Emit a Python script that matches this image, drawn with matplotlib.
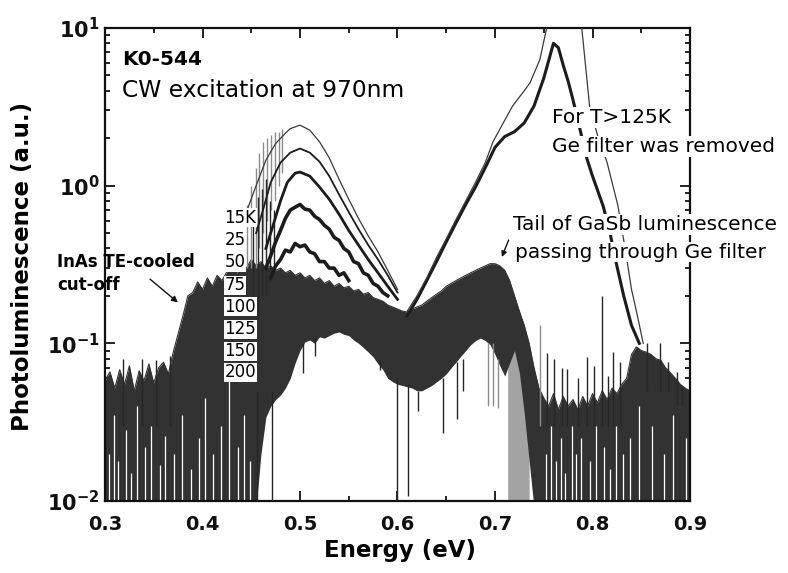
import matplotlib
matplotlib.use('Agg')
import matplotlib.pyplot as plt
from matplotlib.ticker import MultipleLocator, LogLocator, NullFormatter

# ---- data (energy in eV, PL in a.u.) ----
temp_labels = ['15K', '25', '50', '75', '100', '125', '150', '200']

e_15k = [0.445, 0.455, 0.465, 0.475, 0.485, 0.49, 0.50, 0.51, 0.52, 0.53, 0.54, 0.55, 0.56, 0.57, 0.58, 0.59, 0.60]
pl_15k = [0.68, 1.0, 1.45, 1.85, 2.15, 2.3, 2.42, 2.25, 1.9, 1.5, 1.1, 0.82, 0.62, 0.48, 0.38, 0.29, 0.22]

e_25k = [0.455, 0.462, 0.47, 0.48, 0.49, 0.50, 0.51, 0.52, 0.53, 0.54, 0.55, 0.56, 0.57, 0.58, 0.59, 0.60]
pl_25k = [0.5, 0.7, 1.05, 1.4, 1.62, 1.72, 1.62, 1.42, 1.15, 0.88, 0.68, 0.53, 0.42, 0.34, 0.27, 0.21]

e_50k = [0.465, 0.472, 0.48, 0.487, 0.495, 0.50, 0.51, 0.52, 0.53, 0.54, 0.55, 0.56, 0.57, 0.58, 0.59, 0.60]
pl_50k = [0.4, 0.55, 0.8, 1.05, 1.2, 1.22, 1.15, 0.98, 0.82, 0.66, 0.52, 0.42, 0.34, 0.28, 0.23, 0.19]

e_75k = [0.465, 0.47, 0.475, 0.48, 0.485, 0.49, 0.495, 0.50, 0.505, 0.51, 0.515, 0.52, 0.525,
         0.53, 0.535, 0.54, 0.545, 0.55, 0.555, 0.56, 0.565, 0.57, 0.575, 0.58, 0.585, 0.59]
pl_75k = [0.30, 0.36, 0.44, 0.52, 0.62, 0.70, 0.73, 0.76, 0.71, 0.70, 0.64, 0.61, 0.56,
          0.53, 0.47, 0.45, 0.40, 0.38, 0.33, 0.32, 0.28, 0.27, 0.24, 0.23, 0.21, 0.20]

e_100k = [0.47, 0.475, 0.48, 0.485, 0.49, 0.495, 0.50, 0.505, 0.51, 0.515, 0.52, 0.525, 0.53, 0.535, 0.54, 0.545, 0.55]
pl_100k = [0.26, 0.31, 0.34, 0.39, 0.38, 0.43, 0.41, 0.42, 0.38, 0.37, 0.33, 0.33, 0.30, 0.30, 0.27, 0.28, 0.25]

# GaSb peak, Ge filter removed (150K thick, 200K thin)
e_150k = [0.61, 0.62, 0.63, 0.64, 0.65, 0.66, 0.67, 0.68, 0.69, 0.70, 0.71, 0.72, 0.73, 0.74,
          0.75, 0.755, 0.76, 0.765, 0.77, 0.775, 0.78, 0.787, 0.794, 0.80, 0.811, 0.818, 0.825, 0.832, 0.84, 0.848]
pl_150k = [0.15, 0.19, 0.25, 0.33, 0.44, 0.58, 0.76, 0.98, 1.3, 1.75, 2.05, 2.2, 2.5, 3.2,
           4.8, 6.2, 8.0, 7.5, 5.8, 4.6, 3.5, 2.3, 1.5, 1.15, 0.74, 0.5, 0.31, 0.2, 0.13, 0.1]

e_200k = [0.61, 0.62, 0.63, 0.64, 0.65, 0.66, 0.67, 0.68, 0.69, 0.698, 0.71, 0.718, 0.73, 0.736,
          0.746, 0.753, 0.76, 0.775, 0.789, 0.797, 0.805, 0.815, 0.826, 0.834, 0.84, 0.846, 0.852]
pl_200k = [0.16, 0.2, 0.26, 0.35, 0.46, 0.61, 0.8, 1.05, 1.4, 1.9, 2.6, 3.2, 4.0, 4.5,
           6.3, 10.0, 13.0, 14.0, 10.0, 3.2, 2.1, 1.4, 0.75, 0.38, 0.22, 0.15, 0.1]

# envelope of the noisy traces (125K-200K and noise floor)
band_energy = [0.300, 0.305, 0.310, 0.315, 0.320, 0.325, 0.330, 0.335, 0.340, 0.345, 0.350, 0.355,
               0.360, 0.365, 0.370, 0.375, 0.380, 0.385, 0.390, 0.395, 0.400, 0.405, 0.410, 0.415,
               0.420, 0.425, 0.430, 0.435, 0.440, 0.445, 0.450, 0.455, 0.460, 0.465, 0.470, 0.475,
               0.480, 0.485, 0.490, 0.495, 0.500, 0.505, 0.510, 0.515, 0.520, 0.525, 0.530, 0.535,
               0.540, 0.545, 0.550, 0.555, 0.560, 0.565, 0.570, 0.575, 0.580, 0.585, 0.590, 0.595,
               0.600, 0.605, 0.610, 0.615, 0.620, 0.625, 0.630, 0.635, 0.640, 0.645, 0.650, 0.655,
               0.660, 0.665, 0.670, 0.675, 0.680, 0.685, 0.690, 0.695, 0.700, 0.705, 0.710, 0.715,
               0.720, 0.725, 0.730, 0.735, 0.740, 0.745, 0.750, 0.755, 0.760, 0.765, 0.770, 0.775,
               0.780, 0.785, 0.790, 0.795, 0.800, 0.805, 0.810, 0.815, 0.820, 0.825, 0.830, 0.835,
               0.840, 0.845, 0.850, 0.855, 0.860, 0.865, 0.870, 0.875, 0.880, 0.885, 0.890, 0.895, 0.900]
band_high = [0.058, 0.066, 0.052, 0.068, 0.055, 0.072, 0.050, 0.067, 0.058, 0.074, 0.056, 0.070,
             0.076, 0.064, 0.088, 0.115, 0.150, 0.200, 0.210, 0.245, 0.220, 0.260, 0.230, 0.270,
             0.250, 0.285, 0.300, 0.280, 0.320, 0.300, 0.340, 0.310, 0.330, 0.300, 0.310, 0.290,
             0.300, 0.280, 0.290, 0.270, 0.280, 0.260, 0.270, 0.250, 0.260, 0.240, 0.250, 0.230,
             0.240, 0.225, 0.230, 0.215, 0.220, 0.205, 0.210, 0.195, 0.190, 0.185, 0.175, 0.170,
             0.165, 0.160, 0.158, 0.165, 0.170, 0.175, 0.185, 0.195, 0.205, 0.215, 0.230, 0.240,
             0.250, 0.260, 0.270, 0.280, 0.290, 0.300, 0.310, 0.320, 0.320, 0.310, 0.290, 0.250,
             0.200, 0.160, 0.130, 0.100, 0.070, 0.052, 0.045, 0.040, 0.048, 0.038, 0.046, 0.040,
             0.044, 0.038, 0.046, 0.040, 0.048, 0.042, 0.050, 0.044, 0.052, 0.048, 0.055, 0.060,
             0.085, 0.095, 0.090, 0.088, 0.085, 0.080, 0.078, 0.070, 0.065, 0.060, 0.055, 0.052, 0.050]
band_low = [0.009] * 32 + [
            0.020, 0.034, 0.040, 0.044, 0.047, 0.052, 0.060, 0.075, 0.090, 0.102, 0.105, 0.100,
            0.110, 0.108, 0.112, 0.116, 0.118, 0.114, 0.112, 0.105, 0.100, 0.094, 0.088, 0.082,
            0.074, 0.068, 0.060, 0.057, 0.055, 0.054, 0.053, 0.052, 0.050, 0.050, 0.052, 0.054,
            0.057, 0.060, 0.064, 0.070, 0.076, 0.083, 0.090, 0.098, 0.104, 0.108, 0.104, 0.098,
            0.085, 0.072, 0.062, 0.075, 0.090, 0.065, 0.036, 0.018] + [0.009] * 33

# light grey drop of the low-T GaSb tail (Ge filter cut)
cut_energy = [0.713, 0.716, 0.720, 0.725, 0.730, 0.735]
cut_high = [0.07, 0.11, 0.10, 0.07, 0.04, 0.02]

# single noise spikes: energy, bottom, top
spike_energy = [0.456, 0.471, 0.503, 0.515, 0.582, 0.600, 0.611, 0.621, 0.647, 0.661, 0.667,
                0.318, 0.338, 0.352, 0.367,
                0.452, 0.457, 0.461, 0.465, 0.469, 0.473,
                0.753, 0.760, 0.769, 0.774, 0.785, 0.794, 0.802, 0.810, 0.816, 0.821, 0.828,
                0.856, 0.869, 0.877, 0.887, 0.892]
spike_low = [0.0095, 0.0095, 0.065, 0.083, 0.068, 0.0102, 0.0108, 0.037, 0.027, 0.033, 0.050,
             0.03, 0.03, 0.03, 0.03,
             0.2, 0.15, 0.2, 0.2, 0.25, 0.3,
             0.03, 0.03, 0.03, 0.03, 0.03, 0.03, 0.03, 0.03, 0.03, 0.03, 0.03,
             0.05, 0.05, 0.05, 0.04, 0.04]
spike_high = [0.05, 0.05, 0.10, 0.11, 0.08, 0.06, 0.055, 0.05, 0.06, 0.076, 0.08,
              0.08, 0.08, 0.078, 0.083,
              0.6, 0.85, 0.95, 1.1, 0.8, 0.7,
              0.087, 0.08, 0.07, 0.069, 0.06, 0.082, 0.072, 0.2, 0.062, 0.088, 0.076,
              0.1, 0.1, 0.076, 0.066, 0.054]

grey_energy = [0.446, 0.450, 0.455, 0.458, 0.462, 0.466, 0.470, 0.474, 0.478, 0.482,
               0.693, 0.698, 0.703, 0.746]
grey_low = [0.3, 0.3, 0.3, 0.4, 0.5, 0.6, 0.7, 0.8, 1.0, 1.2, 0.04, 0.04, 0.039, 0.03]
grey_high = [0.75, 1.0, 1.3, 1.6, 1.9, 2.0, 2.1, 2.2, 2.2, 2.3, 0.1, 0.1, 0.08, 0.13]

# drop-outs of the noisy traces, seen as pale streaks in the dark mass
dropout_energy = [0.304, 0.309, 0.313, 0.322, 0.327, 0.333, 0.341, 0.347, 0.356, 0.362, 0.371,
                  0.379, 0.388, 0.396, 0.403, 0.411, 0.419, 0.427, 0.436, 0.443, 0.449,
                  0.752, 0.757, 0.763, 0.768, 0.772, 0.779, 0.783, 0.788, 0.797, 0.804, 0.812,
                  0.818, 0.824, 0.831, 0.838, 0.848, 0.861, 0.873, 0.883, 0.896]
dropout_top = [0.020, 0.035, 0.018, 0.028, 0.015, 0.040, 0.022, 0.030, 0.017, 0.026, 0.020,
               0.035, 0.016, 0.025, 0.045, 0.020, 0.030, 0.060, 0.022, 0.035, 0.018,
               0.020, 0.030, 0.018, 0.025, 0.015, 0.030, 0.020, 0.025, 0.018, 0.030, 0.022,
               0.016, 0.030, 0.020, 0.025, 0.040, 0.030, 0.020, 0.035, 0.025]

x_ticks = [0.3, 0.4, 0.5, 0.6, 0.7, 0.8, 0.9]
y_ticks = [0.01, 0.1, 1, 10]
y_tick_labels = [r'$\mathbf{10^{-2}}$', r'$\mathbf{10^{-1}}$', r'$\mathbf{10^{0}}$', r'$\mathbf{10^{1}}$']

# ---- figure ----
fig = plt.figure(figsize=(7.88, 5.73), dpi=100)
ax = fig.add_axes([105 / 788, 72 / 573, 585 / 788, 473 / 573])
ink = '#1c1c1c'

ax.fill_between(cut_energy, 0.009, cut_high, color='#a3a3a3', lw=0, zorder=1.5)
ax.fill_between(band_energy, band_low, band_high, color='#323232', lw=0, zorder=2)
ax.plot(band_energy, band_high, color='#323232', lw=0.8, zorder=2)
ax.vlines(dropout_energy, 0.009, dropout_top, color='white', lw=0.9, zorder=2.2)
ax.vlines(grey_energy, grey_low, grey_high, color='#8c8c8c', lw=1.0, zorder=2.5)
ax.vlines(spike_energy, spike_low, spike_high, color='#262626', lw=1.0, zorder=3)

ax.plot(e_15k, pl_15k, color='#3a3a3a', lw=0.9, zorder=4)
ax.plot(e_25k, pl_25k, color=ink, lw=1.3, zorder=4)
ax.plot(e_50k, pl_50k, color=ink, lw=2.0, zorder=4)
ax.plot(e_75k, pl_75k, color=ink, lw=2.6, zorder=4)
ax.plot(e_100k, pl_100k, color=ink, lw=2.6, zorder=4)
ax.plot(e_150k, pl_150k, color=ink, lw=2.2, zorder=4)
ax.plot(e_200k, pl_200k, color='#3a3a3a', lw=0.9, zorder=4)

# temperature labels
label_y = [0.626, 0.449, 0.326, 0.233, 0.171, 0.123, 0.0889, 0.0654]
for lab, yv in zip(temp_labels, label_y):
    ax.text(0.4225, yv, lab, fontsize=12, ha='left', va='center', zorder=6,
            bbox=dict(fc='white', ec='none', pad=0.4))

ax.set_yscale('log')
ax.set_xlim(0.3, 0.9)
ax.set_ylim(0.01, 10)

ax.set_xticks(x_ticks)
ax.set_xticklabels([f'{v:.1f}' for v in x_ticks], fontsize=14, fontweight='bold')
ax.xaxis.set_minor_locator(MultipleLocator(0.05))
ax.set_yticks(y_ticks)
ax.set_yticklabels(y_tick_labels, fontsize=15)
ax.yaxis.set_minor_locator(LogLocator(base=10, subs=range(2, 10)))
ax.yaxis.set_minor_formatter(NullFormatter())
ax.tick_params(which='both', direction='in', top=True, right=True, width=1.3, colors='#111')
ax.tick_params(which='major', length=7)
ax.tick_params(which='minor', length=3.5)
ax.tick_params(axis='x', pad=10)
ax.tick_params(axis='y', pad=4)
for s in ax.spines.values():
    s.set_linewidth(1.6)
    s.set_color('#111')

fig.text(400 / 788, 1 - 550 / 573, 'Energy (eV)', fontsize=16.5, fontweight='bold', ha='center', va='center')
fig.text(23 / 788, 1 - 266 / 573, 'Photoluminescence (a.u.)', fontsize=16.5, fontweight='bold',
         rotation=90, ha='center', va='center')

ax.text(0.029, 0.922, 'K0-544', transform=ax.transAxes, fontsize=14.5, fontweight='bold', va='baseline')
ax.text(0.029, 0.854, 'CW excitation at 970nm', transform=ax.transAxes, fontsize=16.8, va='baseline')

box = dict(fc='white', ec='none', pad=0.5)
ax.text(0.764, 0.799, 'For T>125K', transform=ax.transAxes, fontsize=14.5, va='baseline',
        bbox=box, zorder=7, clip_on=False)
ax.text(0.764, 0.738, 'Ge filter was removed', transform=ax.transAxes, fontsize=14.5, va='baseline',
        bbox=box, zorder=7, clip_on=False)
ax.text(0.697, 0.573, 'Tail of GaSb luminescence', transform=ax.transAxes, fontsize=14.5, va='baseline',
        bbox=box, zorder=7, clip_on=False)
ax.text(0.701, 0.514, 'passing through Ge filter', transform=ax.transAxes, fontsize=14.5, va='baseline',
        bbox=box, zorder=7, clip_on=False)
ax.text(-0.082, 0.495, 'InAs TE-cooled', transform=ax.transAxes, fontsize=12, fontweight='bold',
        va='baseline', zorder=7, clip_on=False)
ax.text(-0.082, 0.446, 'cut-off', transform=ax.transAxes, fontsize=12, fontweight='bold',
        va='baseline', zorder=7, clip_on=False)

ax.annotate('', xy=(0.377, 0.177), xytext=(0.344, 0.262),
            arrowprops=dict(arrowstyle='-|>', color='#111', lw=1.0, mutation_scale=9), zorder=7)
ax.annotate('', xy=(0.706, 0.34), xytext=(0.715, 0.469),
            arrowprops=dict(arrowstyle='-|>', color='#111', lw=1.0, mutation_scale=8), zorder=7)

fig.savefig('out.png', dpi=100)
